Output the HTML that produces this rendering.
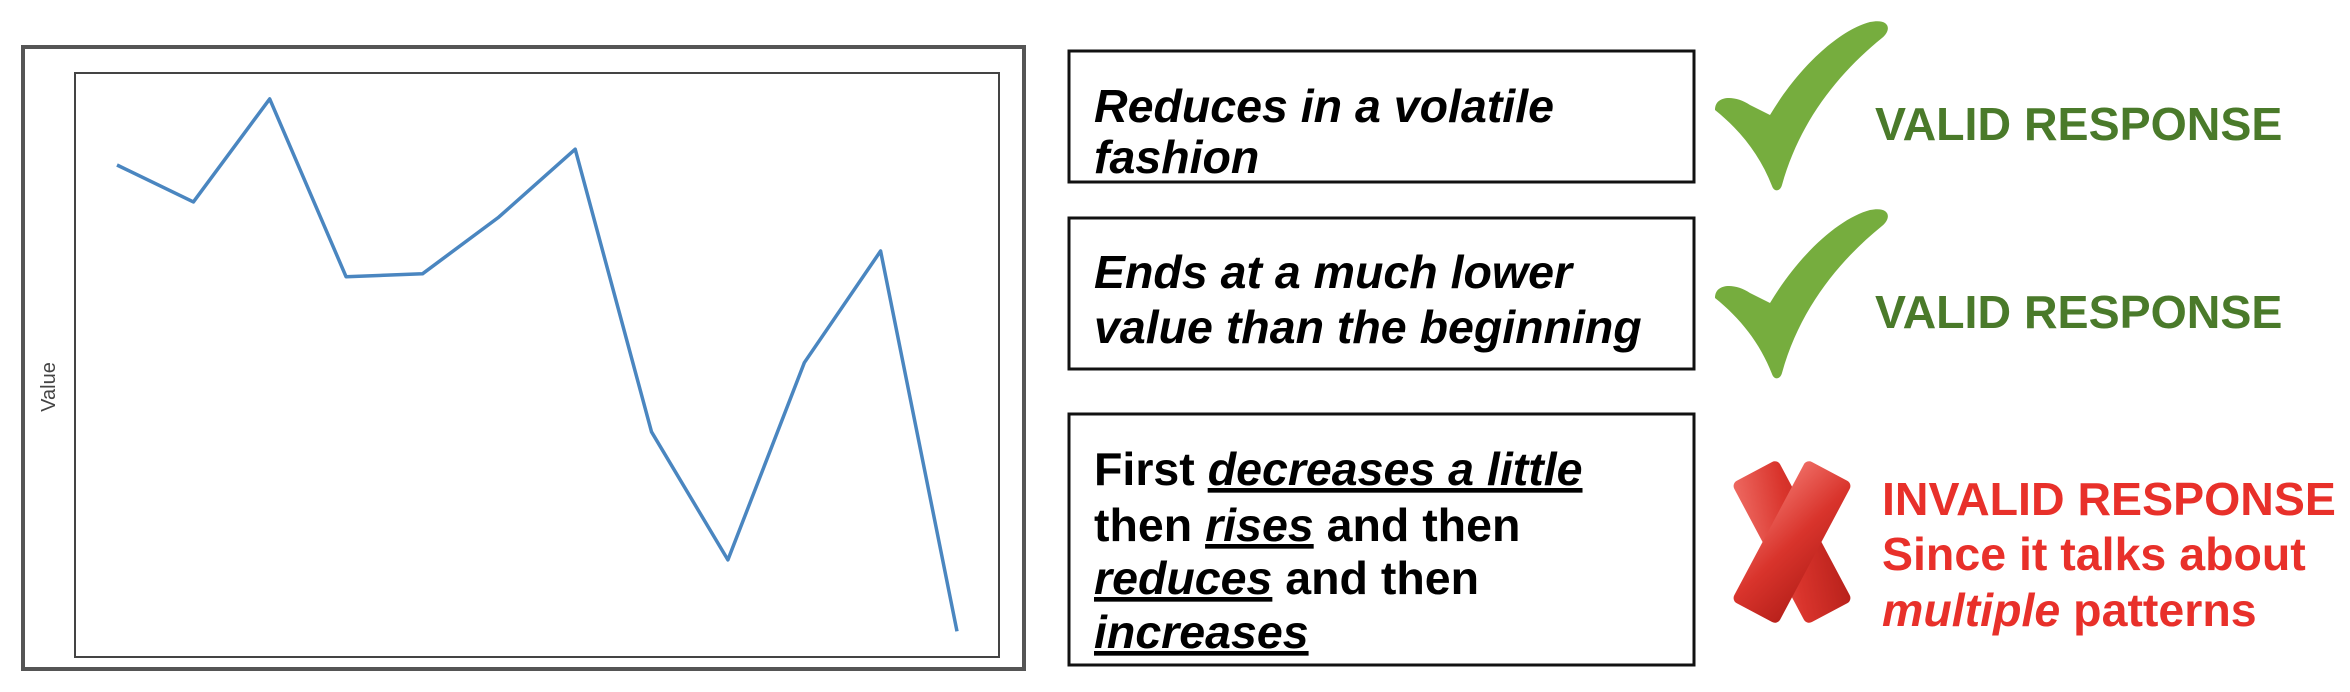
<!DOCTYPE html>
<html><head><meta charset="utf-8"><style>
html,body{margin:0;padding:0;background:#fff;}
svg{display:block;}
text{font-family:"Liberation Sans",Arial,sans-serif;}
</style></head><body>
<svg width="2350" height="692" viewBox="0 0 2350 692" xmlns="http://www.w3.org/2000/svg">
<defs>
<linearGradient id="xg" x1="0" y1="0" x2="1" y2="1">
<stop offset="0" stop-color="#ee6a62"/><stop offset="0.5" stop-color="#d9342c"/><stop offset="1" stop-color="#b8211b"/>
</linearGradient>
</defs>
<rect x="23" y="47" width="1001" height="622" fill="#fff" stroke="#555" stroke-width="4"/>
<rect x="75" y="73" width="924" height="584" fill="#fff" stroke="#444" stroke-width="2"/>
<text x="55" y="387" font-size="20" fill="#444" text-anchor="middle" transform="rotate(-90 55 387)">Value</text>
<g id="series"></g>

<g>
<rect x="1069" y="51" width="625" height="131" fill="#fff" stroke="#111" stroke-width="3"/>
<text x="1094" y="122" font-size="46.5" font-weight="bold" font-style="italic" fill="#000"><tspan x="1094">Reduces in a volatile</tspan><tspan x="1094" y="173">fashion</tspan></text>
<path transform="translate(1700,0)" d="M15,110 C15,95 35,95 50,105 L70,115 C100,65 140,30 170,22 C190,18 192,30 182,38 C140,72 100,120 82,185 C80,192 74,192 72,186 C60,155 40,130 15,110 Z" fill="#76ad3e"/>
<text x="1875" y="140" font-size="46.5" font-weight="bold" fill="#4a7a2a">VALID RESPONSE</text>
</g>

<g>
<rect x="1069" y="218" width="625" height="151" fill="#fff" stroke="#111" stroke-width="3"/>
<text x="1094" y="288" font-size="46.5" font-weight="bold" font-style="italic" fill="#000"><tspan x="1094">Ends at a much lower</tspan><tspan x="1094" y="343">value than the beginning</tspan></text>
<path transform="translate(1700,188)" d="M15,110 C15,95 35,95 50,105 L70,115 C100,65 140,30 170,22 C190,18 192,30 182,38 C140,72 100,120 82,185 C80,192 74,192 72,186 C60,155 40,130 15,110 Z" fill="#76ad3e"/>
<text x="1875" y="328" font-size="46.5" font-weight="bold" fill="#4a7a2a">VALID RESPONSE</text>
</g>

<g>
<rect x="1069" y="414" width="625" height="251" fill="#fff" stroke="#111" stroke-width="3"/>
<text font-size="46.5" font-weight="bold" fill="#000">
<tspan x="1094" y="485">First </tspan><tspan font-style="italic" text-decoration="underline">decreases a little</tspan>
<tspan x="1094" y="541">then </tspan><tspan font-style="italic" text-decoration="underline">rises</tspan><tspan> and then</tspan>
<tspan x="1094" y="594" font-style="italic" text-decoration="underline">reduces</tspan><tspan> and then</tspan>
<tspan x="1094" y="648" font-style="italic" text-decoration="underline">increases</tspan>
</text>
<g transform="translate(1792,542)">
<rect x="-26" y="-80" width="52" height="160" rx="6" fill="url(#xg)" transform="rotate(-28)"/>
<rect x="-26" y="-80" width="52" height="160" rx="6" fill="url(#xg)" transform="rotate(28)"/>
</g>
<text font-size="46.5" font-weight="bold" fill="#e8302a">
<tspan x="1882" y="515">INVALID RESPONSE</tspan>
<tspan x="1882" y="570">Since it talks about</tspan>
<tspan x="1882" y="626" font-style="italic">multiple</tspan><tspan> patterns</tspan>
</text>
</g>
</svg>
<script>
const categories = [1,2,3,4,5,6,7,8,9,10,11,12];
const values = [84.1, 77.8, 95.4, 65.0, 65.5, 75.2, 86.8, 38.5, 16.6, 50.3, 69.4, 4.4];
const yDomain = [0, 100];
function xScale(i){ return 117 + (i) * (957-117)/(categories.length-1); }
function yScale(v){ return 657 - (v - yDomain[0]) / (yDomain[1]-yDomain[0]) * 585; }
const g = document.getElementById('series');
const pts = values.map((v,i)=> xScale(i).toFixed(1)+','+yScale(v).toFixed(1)).join(' ');
const pl = document.createElementNS('http://www.w3.org/2000/svg','polyline');
pl.setAttribute('points', pts);
pl.setAttribute('fill','none');
pl.setAttribute('stroke','#4a86c0');
pl.setAttribute('stroke-width','3.5');
pl.setAttribute('stroke-linejoin','round');


g.appendChild(pl);
</script>
</body></html>
